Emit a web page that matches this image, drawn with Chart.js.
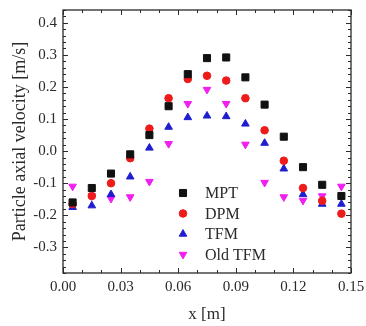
<!DOCTYPE html>
<html>
<head>
<meta charset="utf-8">
<script src="https://cdn.jsdelivr.net/npm/chart.js@4/dist/chart.umd.min.js"></script>
<style>
  html, body { margin: 0; padding: 0; background: #fff; }
  canvas { display: block; }
</style>
</head>
<body>
<canvas id="velocity" width="366" height="326"></canvas>
<script>
// radial positions [m]
const xPos = [0.005, 0.015, 0.025, 0.035, 0.045, 0.055, 0.065, 0.075,
              0.085, 0.095, 0.105, 0.115, 0.125, 0.135, 0.145];

// particle axial velocity [m/s]
const mpt = [-0.16, -0.115, -0.07, -0.01, 0.05, 0.14, 0.24, 0.29,
             0.292, 0.23, 0.145, 0.045, -0.05, -0.105, -0.14];
const dpm = [-0.165, -0.14, -0.10, -0.022, 0.07, 0.165, 0.225, 0.235,
             0.22, 0.165, 0.065, -0.03, -0.115, -0.155, -0.195];
const tfm = [-0.175, -0.17, -0.135, -0.08, 0.01, 0.075, 0.105, 0.11,
             0.108, 0.085, 0.025, -0.055, -0.135, -0.165, -0.165];
const oldTfm = [-0.11, -0.14, -0.148, -0.143, -0.095, 0.023, 0.148, 0.192,
                0.148, 0.021, -0.098, -0.143, -0.154, -0.14, -0.11];

const xTicks = [0.00, 0.03, 0.06, 0.09, 0.12, 0.15];
const yTicks = [-0.3, -0.2, -0.1, 0.0, 0.1, 0.2, 0.3, 0.4];

const serif = "'Liberation Serif', 'DejaVu Serif', serif";
const inkColor = "#2a2a2a";

const toPoints = (ys) => ys.map((v, i) => ({ x: xPos[i], y: v }));

function series(label, ys, color, style, radius, rotation) {
  return {
    label,
    data: toPoints(ys),
    backgroundColor: color,
    borderColor: color,
    pointStyle: style,
    pointRadius: radius,
    pointRotation: rotation || 0,
    borderWidth: 1,
    showLine: false,
  };
}

// box frame with inward ticks on all four sides
const frameTicks = {
  id: "frameTicks",
  afterDraw(chart) {
    const { ctx, chartArea: a, scales } = chart;
    const x = scales.x, y = scales.y;
    ctx.save();
    ctx.strokeStyle = inkColor;
    ctx.lineWidth = 1.3;
    ctx.strokeRect(a.left, a.top, a.right - a.left, a.bottom - a.top);
    ctx.lineWidth = 1;
    ctx.beginPath();
    for (let i = 0; i <= 15; i++) {
      const len = i % 3 === 0 ? 5 : 3;
      const px = Math.round(x.getPixelForValue(i / 100)) + 0.5;
      ctx.moveTo(px, a.bottom); ctx.lineTo(px, a.bottom - len);
      ctx.moveTo(px, a.top); ctx.lineTo(px, a.top + len);
    }
    for (let i = -19; i <= 22; i++) {
      const len = i % 5 === 0 ? 5 : 3;
      const py = Math.round(y.getPixelForValue(i / 50)) + 0.5;
      ctx.moveTo(a.left, py); ctx.lineTo(a.left + len, py);
      ctx.moveTo(a.right, py); ctx.lineTo(a.right - len, py);
    }
    ctx.stroke();
    ctx.restore();
  },
};

// legend drawn inside the plot area
const innerLegend = {
  id: "innerLegend",
  afterDraw(chart) {
    const { ctx } = chart;
    ctx.save();
    ctx.font = "16px " + serif;
    ctx.textBaseline = "middle";
    ctx.textAlign = "left";
    chart.data.datasets.forEach((ds, i) => {
      const cy = 193 + i * 20.5;
      ctx.fillStyle = ds.backgroundColor;
      ctx.strokeStyle = ds.borderColor;
      ctx.lineWidth = 1;
      Chart.helpers.drawPoint(ctx, {
        pointStyle: ds.pointStyle,
        radius: ds.pointRadius,
        rotation: ds.pointRotation,
        borderWidth: 1,
      }, 183, cy);
      ctx.fillStyle = inkColor;
      ctx.fillText(ds.label, 205, cy + 1);
    });
    ctx.restore();
  },
};

const data = {
  datasets: [
    series("MPT", mpt, "#111111", "rect", 5),
    series("DPM", dpm, "#ee1b1b", "circle", 3.8),
    series("TFM", tfm, "#1e1ecf", "triangle", 4.4),
    series("Old TFM", oldTfm, "#f01ef0", "triangle", 4.4, 180),
  ],
};

const options = {
  responsive: false,
  animation: false,
  layout: { padding: { left: 0, right: 15, top: 10, bottom: 0 } },
  plugins: {
    legend: { display: false },
    tooltip: { enabled: false },
  },
  scales: {
    x: {
      type: "linear",
      min: 0,
      max: 0.15,
      afterBuildTicks: (s) => { s.ticks = xTicks.map((v) => ({ value: v })); },
      afterFit: (s) => { s.height = 53; s.paddingLeft = 0; s.paddingRight = 0; },
      grid: { display: false, drawTicks: false },
      border: { display: false },
      ticks: {
        callback: (v) => Number(v).toFixed(2),
        padding: 5,
        maxRotation: 0,
        autoSkip: false,
        color: inkColor,
        font: { family: serif, size: 15 },
      },
      title: {
        display: true,
        text: "x [m]",
        color: inkColor,
        font: { family: serif, size: 17 },
        padding: { top: 0, bottom: 1 },
      },
    },
    y: {
      type: "linear",
      min: -0.38,
      max: 0.44,
      afterBuildTicks: (s) => { s.ticks = yTicks.map((v) => ({ value: v })); },
      afterFit: (s) => { s.width = 63; s.paddingTop = 0; s.paddingBottom = 0; },
      grid: { display: false, drawTicks: false },
      border: { display: false },
      ticks: {
        callback: (v) => Number(v).toFixed(1),
        padding: 6,
        autoSkip: false,
        color: inkColor,
        font: { family: serif, size: 15 },
      },
      title: {
        display: true,
        text: "Particle axial velocity [m/s]",
        color: inkColor,
        font: { family: serif, size: 18 },
        padding: { top: 9, bottom: 0 },
      },
    },
  },
};

new Chart(document.getElementById("velocity"), {
  type: "scatter",
  data,
  options,
  plugins: [frameTicks, innerLegend],
});
</script>
</body>
</html>
